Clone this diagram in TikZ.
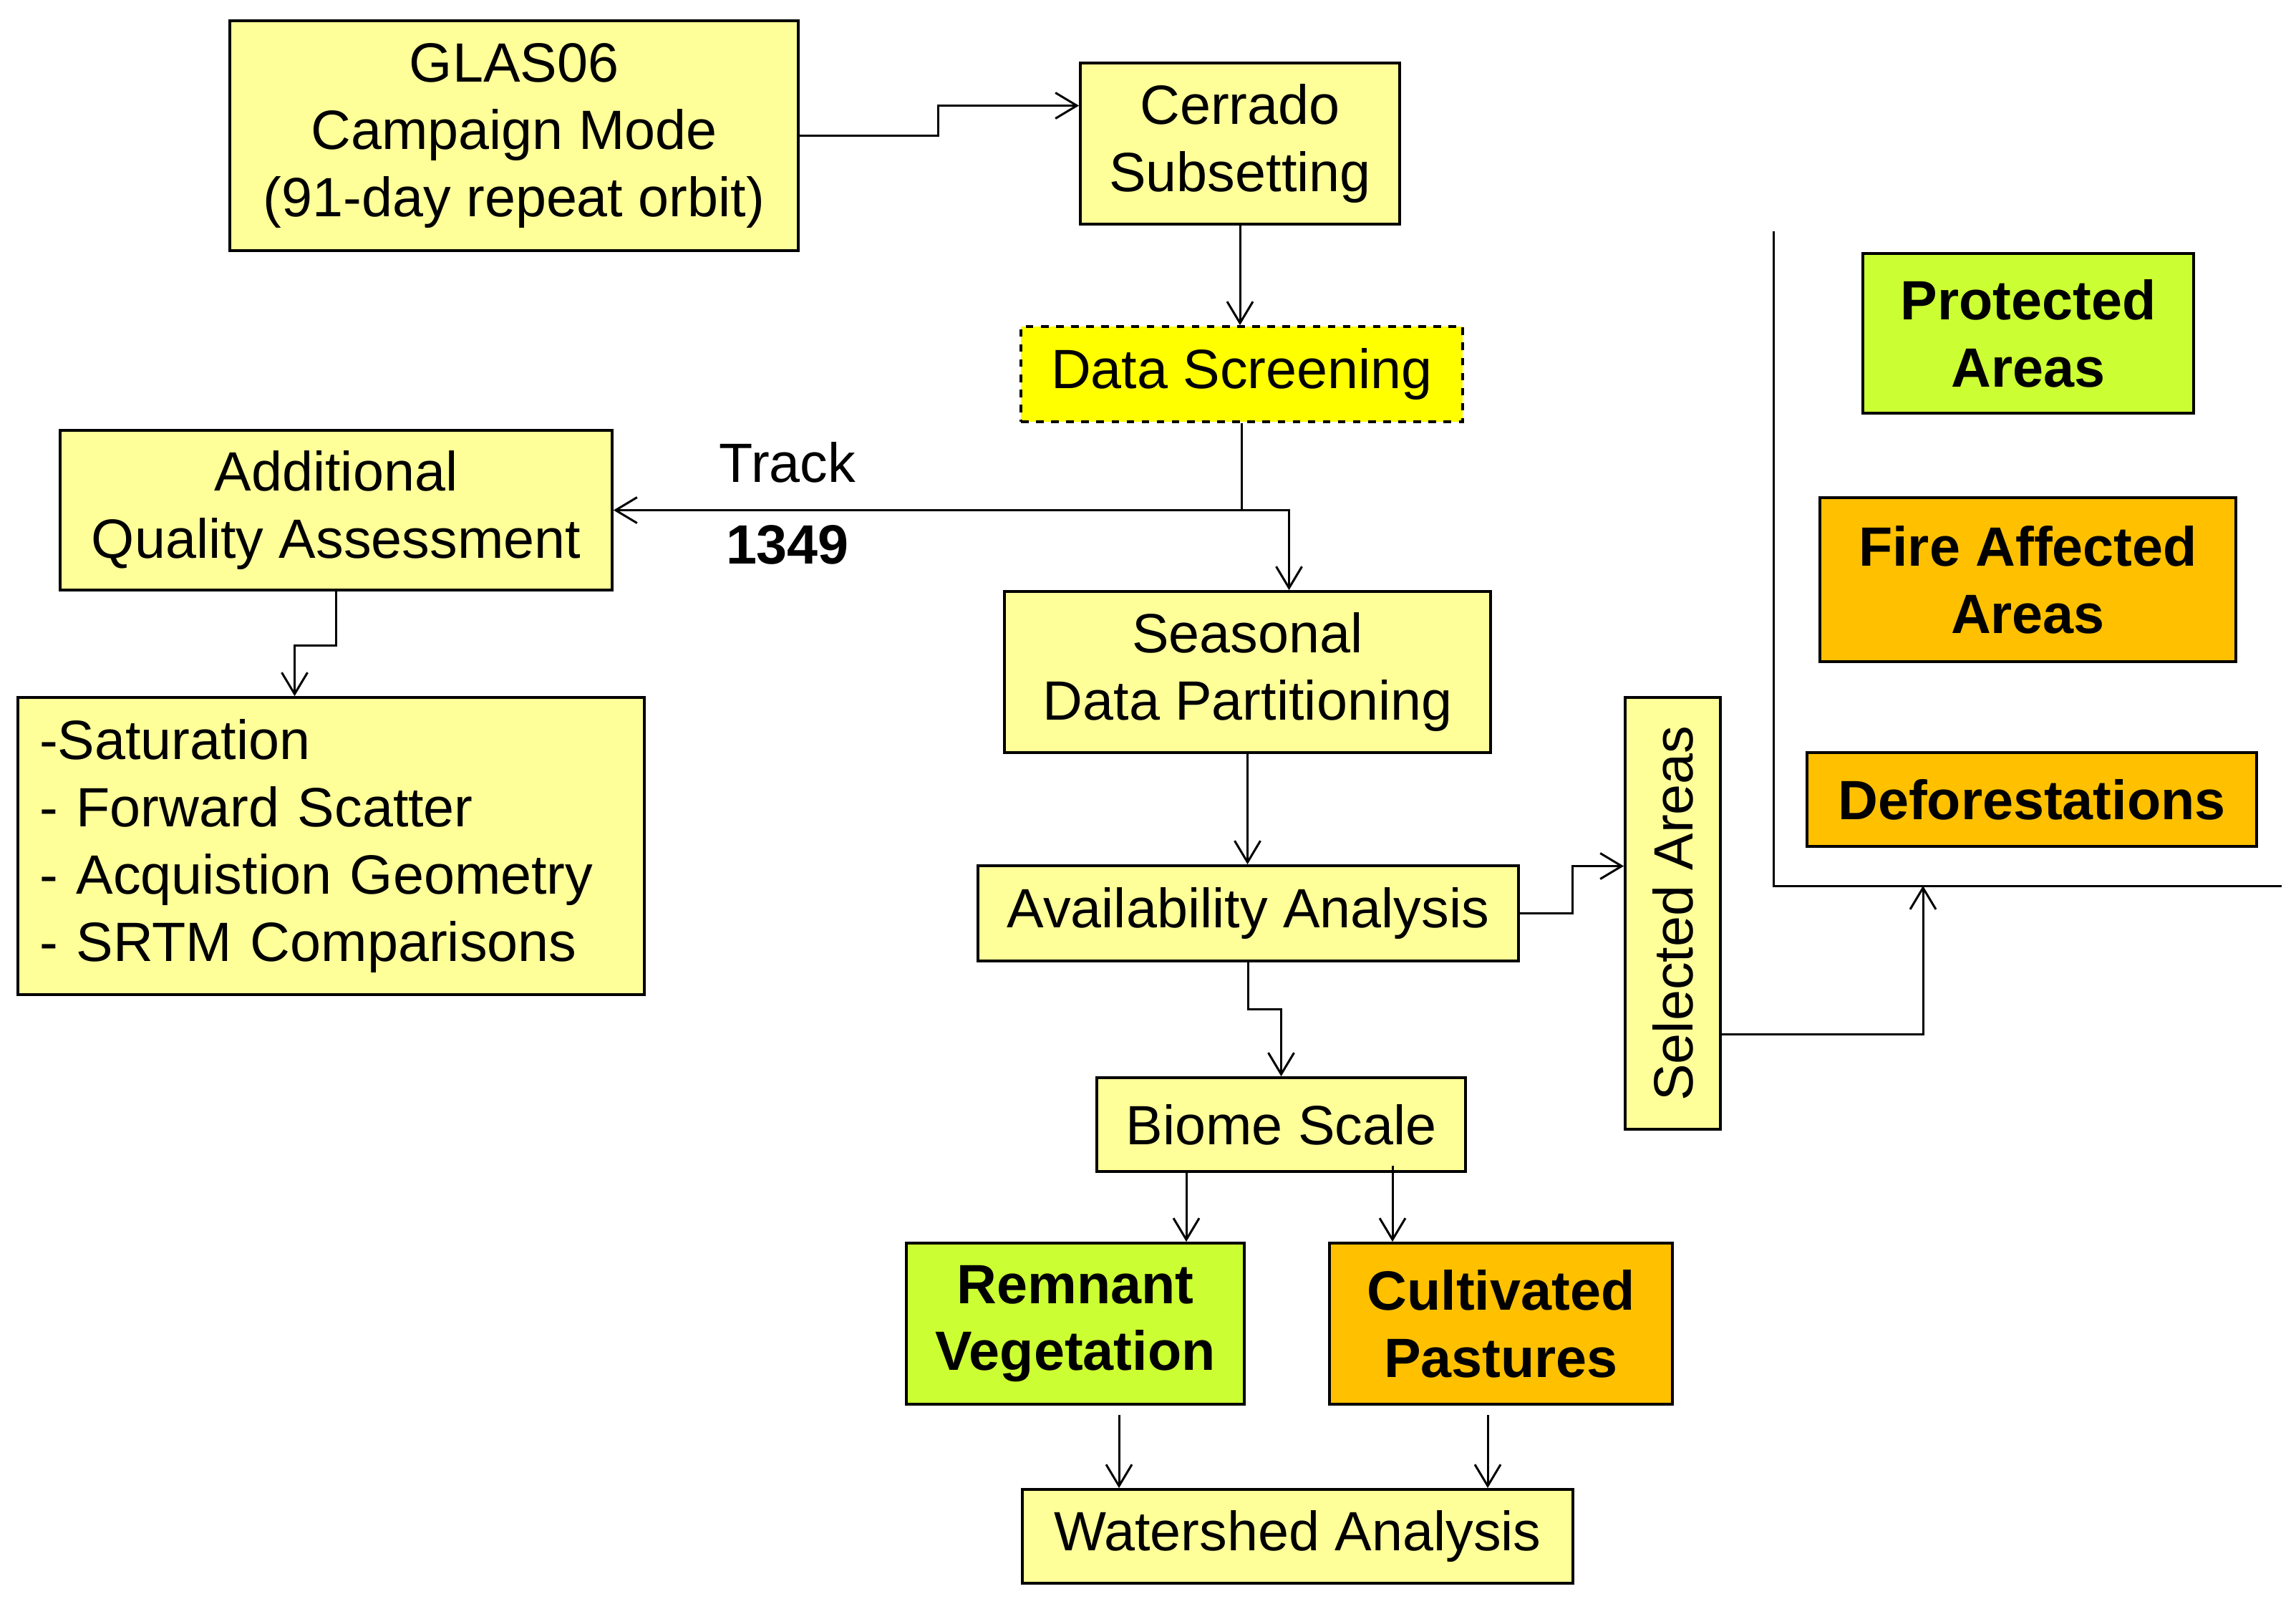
\documentclass[tikz,border=0pt]{standalone}
\usepackage{fontspec}
\setmainfont{Liberation Sans}
\usetikzlibrary{calc,arrows.meta}

\definecolor{paleyel}{HTML}{FFFF99}
\definecolor{brightyel}{HTML}{FFFF00}
\definecolor{limegr}{HTML}{CCFF33}
\definecolor{ambr}{HTML}{FFC000}

\begin{document}
\begin{tikzpicture}[
    box/.style={draw, line width=1.1pt, fill=paleyel, align=center, inner sep=0pt,
        font=\fontsize{22}{26.7}\selectfont},
    hot/.style={box, font=\fontsize{22}{26.7}\selectfont\bfseries},
    flow/.style={line width=0.85pt, -{Straight Barb[length=3mm,width=3.6mm]}}]
            \useasboundingbox (0,0) rectangle (32.07,-22.40);

            \node[box, minimum width=7.94cm, minimum height=3.21cm] (glas) at (7.18,-1.895) {GLAS06\\Campaign Mode\\(91-day repeat orbit)};
            \node[box, minimum width=4.46cm, minimum height=2.25cm] (cerr) at (17.32,-2.005) {Cerrado\\Subsetting};
            \node[box, fill=brightyel, dashed, minimum width=6.17cm, minimum height=1.33cm] (scrn) at (17.345,-5.225) {Data Screening};
            \node[box, minimum width=7.71cm, minimum height=2.23cm] (addq) at (4.695,-7.125) {Additional\\Quality Assessment};
            \node[box, align=left, text width=8.15cm, inner xsep=0.3cm, minimum height=4.15cm] (list) at (4.625,-11.815) {-Saturation\\- Forward Scatter\\- Acquistion Geometry\\- SRTM Comparisons};
            \node[box, minimum width=6.79cm, minimum height=2.25cm] (seas) at (17.425,-9.385) {Seasonal\\Data Partitioning};
            \node[box, minimum width=7.55cm, minimum height=1.33cm] (avail) at (17.435,-12.755) {Availability Analysis};
            \node[box, minimum width=1.33cm, minimum height=6.03cm] (selc) at (23.365,-12.755) {\rotatebox{90}{Selected Areas}};
            \node[box, minimum width=5.15cm, minimum height=1.31cm] (biom) at (17.895,-15.705) {Biome Scale};
            \node[hot, fill=limegr, minimum width=4.72cm, minimum height=2.25cm] (remn) at (15.02,-18.485) {Remnant\\Vegetation};
            \node[hot, fill=ambr, minimum width=4.79cm, minimum height=2.25cm] (cult) at (20.965,-18.485) {Cultivated\\Pastures};
            \node[box, minimum width=7.69cm, minimum height=1.31cm] (wshd) at (18.125,-21.455) {Watershed Analysis};

            \node[hot, fill=limegr, minimum width=4.62cm, minimum height=2.23cm] (prot) at (28.33,-4.655) {Protected\\Areas};
            \node[hot, fill=ambr, minimum width=5.81cm, minimum height=2.29cm] (fire) at (28.325,-8.095) {Fire Affected\\Areas};
            \node[hot, fill=ambr, minimum width=6.28cm, minimum height=1.31cm] (defo) at (28.38,-11.165) {Deforestations};

            \node[font=\fontsize{22}{26.7}\selectfont] (trk) at (11.0,-6.46) {Track};
            \node[font=\fontsize{22}{26.7}\selectfont\bfseries] (num) at (11.0,-7.61) {1349};

            % bracket round the area classes
            \coordinate (br1) at (24.77,-3.23);
            \coordinate (br2) at (24.77,-12.37);
            \coordinate (br3) at (31.87,-12.37);
            \coordinate (brtip) at (26.86,-12.37);
            \draw[line width=0.85pt] (br1) -- (br2) -- (br3);

            \coordinate (split) at (scrn.south |- addq.east);
            \draw[flow] (glas.east) -- ++(1.94,0) |- ($(cerr.west)+(0,0.53)$);
            \draw[flow] (cerr.south) -- (cerr.south |- scrn.north);
            \draw[flow] (scrn.south) |- (addq.east);
            \draw[flow] (split) -| ([xshift=5.8mm]seas.north);
            \draw[flow] (addq.south) -- ++(0,-0.76) -| ([xshift=-5.1mm]list.north);
            \draw[flow] (seas.south) -- (seas.south |- avail.north);
            \draw[flow] (avail.east) -- ++(0.74,0) |- ([yshift=6.6mm]selc.west);
            \draw[flow] (avail.south) -- ++(0,-0.66) -| (biom.north);
            \draw[flow] ([xshift=-13.25mm]biom.south) -- ([xshift=-13.25mm]biom.south |- remn.north);
            \draw[flow] ([xshift=15.55mm,yshift=1mm]biom.south) -- ([xshift=15.55mm]biom.south |- cult.north);
            \draw[flow] ([xshift=6.1mm,yshift=-1.3mm]remn.south) -- ([xshift=6.1mm]remn.south |- wshd.north);
            \draw[flow] ([xshift=-1.85mm,yshift=-1.3mm]cult.south) -- ([xshift=-1.85mm]cult.south |- wshd.north);
            \draw[flow] ([yshift=-16.85mm]selc.east) -| (brtip);
\end{tikzpicture}
\end{document}
